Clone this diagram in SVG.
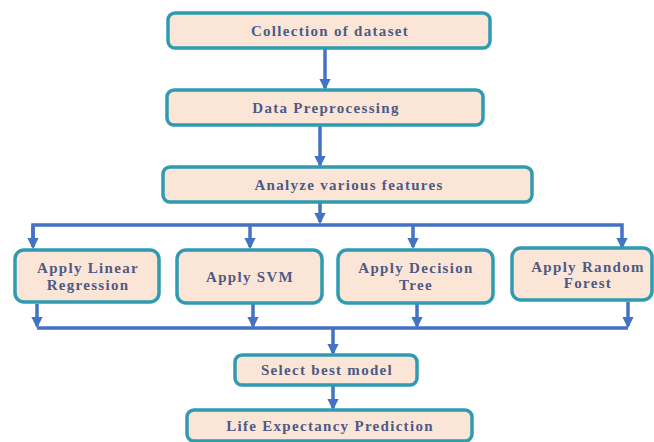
<svg xmlns="http://www.w3.org/2000/svg" width="654" height="442" viewBox="0 0 654 442">
<defs>
<style>
.box{fill:#fbe5d6;stroke:#2f9bb0;stroke-width:3.5}
.t{font-family:"Liberation Serif",serif;font-weight:bold;font-size:15px;letter-spacing:1.3px;fill:#4d5a86;text-anchor:middle}
.c{fill:none;stroke:#4472c4;stroke-width:3.5}
</style>
<marker id="ah" viewBox="0 0 10 10" refX="8" refY="5" markerWidth="3.2" markerHeight="3.2" orient="auto" markerUnits="strokeWidth">
<path d="M0,0 L10,5 L0,10 z" fill="#4472c4"/>
</marker>
</defs>
<rect width="654" height="442" fill="#ffffff"/>
<g id="connectors">
<line class="c" x1="325" y1="49" x2="325" y2="88" marker-end="url(#ah)"/>
<line class="c" x1="320" y1="126" x2="320" y2="165" marker-end="url(#ah)"/>
<line class="c" x1="320" y1="203" x2="320" y2="222" marker-end="url(#ah)"/>
<polyline class="c" points="33,247 33,225 622,225 622,247" marker-end="url(#ah)"/>
<line class="c" x1="33" y1="225" x2="33" y2="247" marker-end="url(#ah)"/>
<line class="c" x1="250" y1="225" x2="250" y2="247" marker-end="url(#ah)"/>
<line class="c" x1="413" y1="225" x2="413" y2="247" marker-end="url(#ah)"/>
<line class="c" x1="37" y1="304" x2="37" y2="326" marker-end="url(#ah)"/>
<line class="c" x1="253" y1="304" x2="253" y2="326" marker-end="url(#ah)"/>
<line class="c" x1="417" y1="304" x2="417" y2="326" marker-end="url(#ah)"/>
<line class="c" x1="628" y1="302" x2="628" y2="326" marker-end="url(#ah)"/>
<line class="c" x1="37" y1="328" x2="628" y2="328"/>
<line class="c" x1="333" y1="328" x2="333" y2="353" marker-end="url(#ah)"/>
<line class="c" x1="333" y1="386" x2="333" y2="408" marker-end="url(#ah)"/>
</g>
<g id="collection">
<rect class="box" x="168" y="13" width="322" height="35" rx="7"/>
<text class="t" x="330" y="36">Collection of dataset</text>
</g>
<g id="preprocessing">
<rect class="box" x="167" y="90" width="316" height="35" rx="7"/>
<text class="t" x="326" y="113">Data Preprocessing</text>
</g>
<g id="analyze">
<rect class="box" x="163" y="167" width="369" height="35" rx="7"/>
<text class="t" x="349" y="190">Analyze various features</text>
</g>
<g id="linear">
<rect class="box" x="15" y="250" width="144" height="52" rx="9"/>
<text class="t" x="88" y="273">Apply Linear</text>
<text class="t" x="88" y="290">Regression</text>
</g>
<g id="svm">
<rect class="box" x="177" y="250" width="145" height="53" rx="9"/>
<text class="t" x="250" y="282">Apply SVM</text>
</g>
<g id="dtree">
<rect class="box" x="338" y="250" width="155" height="53" rx="9"/>
<text class="t" x="416" y="273">Apply Decision</text>
<text class="t" x="416" y="290">Tree</text>
</g>
<g id="rforest">
<rect class="box" x="512" y="248" width="140" height="52" rx="9"/>
<text class="t" x="588" y="272">Apply Random</text>
<text class="t" x="588" y="288">Forest</text>
</g>
<g id="select">
<rect class="box" x="235" y="355" width="182" height="30" rx="7"/>
<text class="t" x="327" y="375">Select best model</text>
</g>
<g id="life">
<rect class="box" x="187" y="410" width="285" height="31" rx="7"/>
<text class="t" x="330" y="431">Life Expectancy Prediction</text>
</g>
</svg>
